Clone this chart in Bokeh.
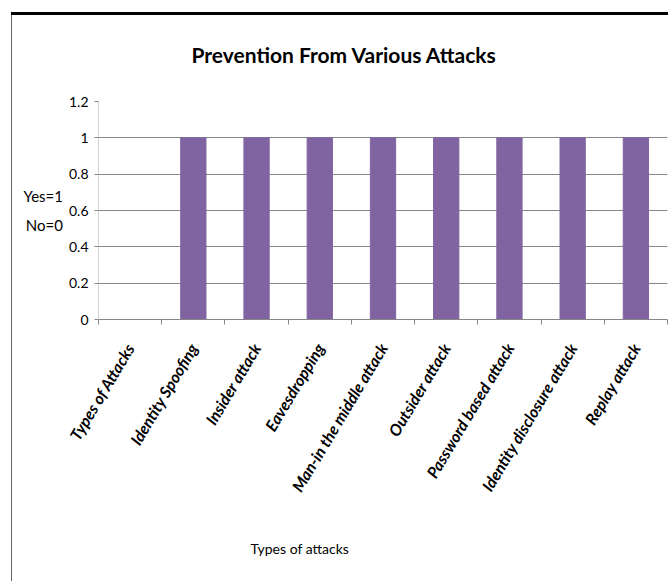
from bokeh.plotting import figure
from bokeh.models import FixedTicker, Range1d, Title, ColumnDataSource
from bokeh.embed import file_html
from bokeh.resources import INLINE

categories = ["Types of Attacks", "Identity Spoofing", "Insider attack", "Eavesdropping",
              "Man-in the middle attack", "Outsider attack", "Password based attack",
              "Identity disclosure attack", "Replay attack"]
values = [0, 1, 1, 1, 1, 1, 1, 1, 1]
y_ticks = [0, 0.2, 0.4, 0.6, 0.8, 1.0, 1.2]
y_tick_labels = ["0", "0.2", "0.4", "0.6", "0.8", "1", "1.2"]
title_text = "Prevention From Various Attacks"
x_label = "Types of attacks"
y_label = "Yes=1\nNo=0"

FONT = "Lato"
BAR = "#8064A2"
GRID = "#868686"

n = len(categories)
centers = [i + 0.5 for i in range(n)]
source = ColumnDataSource(dict(x=centers, top=values, name=categories))

p = figure(frame_width=569, frame_height=218,
           x_range=Range1d(0, n), y_range=Range1d(0, 1.2),
           output_backend="svg", toolbar_location=None,
           min_border_left=90, min_border_right=1, min_border_top=96, min_border_bottom=262,
           margin=(5, 0, 0, 8),
           border_fill_color=None,
           styles={
               "background-image": "linear-gradient(#000, #000), linear-gradient(#666, #666)",
               "background-size": "100% 3px, 1px 100%",
               "background-position": "3px 7px, 3px 7px",
               "background-repeat": "no-repeat",
           })

p.vbar(x="x", top="top", width=0.4, source=source, fill_color=BAR, line_color=BAR)

p.title.text = title_text
p.title.align = "left"
p.title.vertical_align = "middle"
p.title.offset = 93
p.title.standoff = 68
p.title.text_font = FONT
p.title.text_font_size = "21px"
p.title.text_font_style = "bold"
p.title.text_color = "#000"

p.outline_line_color = None
p.xgrid.grid_line_color = None
p.ygrid.grid_line_color = GRID
p.ygrid.ticker = FixedTicker(ticks=y_ticks)

ya = p.yaxis[0]
ya.ticker = FixedTicker(ticks=y_ticks)
ya.major_label_overrides = {t: l for t, l in zip(y_ticks, y_tick_labels)}
ya.axis_line_color = "#d0d0d0"
ya.major_tick_line_color = GRID
ya.major_tick_out = 4
ya.major_tick_in = 0
ya.minor_tick_line_color = None
ya.major_label_standoff = 6
ya.major_label_text_font = FONT
ya.major_label_text_font_size = "14px"
ya.major_label_text_color = "#000"
ya.axis_label = y_label
ya.axis_label_orientation = "horizontal"
ya.axis_label_standoff = 3
ya.axis_label_text_font = FONT
ya.axis_label_text_font_size = "15px"
ya.axis_label_text_font_style = "normal"
ya.axis_label_text_line_height = 1.65
ya.axis_label_text_color = "#000"

xa = p.xaxis[0]
xa.ticker = FixedTicker(ticks=centers, minor_ticks=list(range(n + 1)))
xa.major_label_overrides = {c: name for c, name in zip(centers, categories)}
xa.axis_line_color = GRID
xa.major_tick_line_color = None
xa.major_tick_out = 0
xa.major_tick_in = 0
xa.minor_tick_line_color = GRID
xa.minor_tick_out = 5
xa.minor_tick_in = 0
xa.major_label_orientation = 1.03
xa.major_label_standoff = 20
xa.major_label_text_font = FONT
xa.major_label_text_font_size = "16px"
xa.major_label_text_font_style = "bold italic"
xa.major_label_text_color = "#000"

xt = Title(text="\n\n" + x_label, align="left", offset=152, standoff=2,
           text_font=FONT, text_font_size="14px", text_font_style="normal", text_color="#000")
p.add_layout(xt, "below")

open("out.html", "w").write(file_html(p, INLINE))
